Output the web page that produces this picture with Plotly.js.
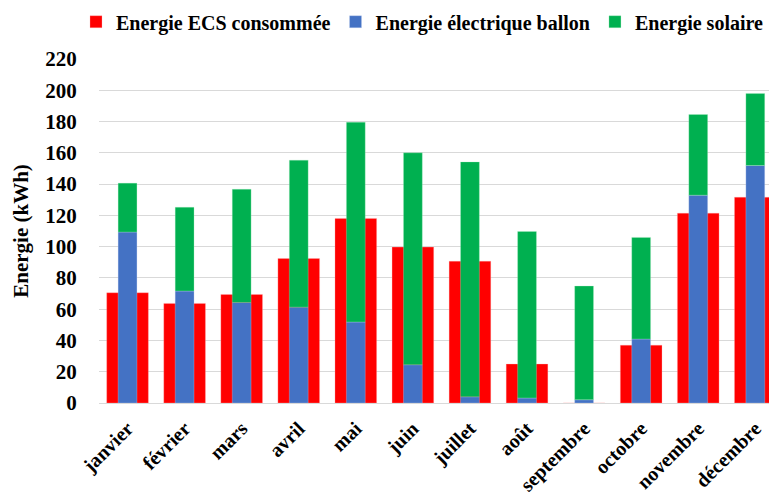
<!DOCTYPE html>
<html>
<head>
<meta charset="utf-8">
<script src="https://cdn.plot.ly/plotly-3.0.1.min.js"></script>
<style>html,body{margin:0;padding:0;background:#fff;}#chart{width:769px;height:497px;}</style>
</head>
<body>
<div id="chart"></div>
<script>
const months = ["janvier","février","mars","avril","mai","juin","juillet","août","septembre","octobre","novembre","décembre"];
const ecsConsommee = [70.5, 63.7, 69.4, 92.4, 118, 99.7, 90.7, 24.9, 0, 37, 121.4, 131.6];
const electriqueBallon = [109.3, 71.6, 64.3, 61.3, 51.8, 24.5, 4.0, 3.2, 2.1, 40.9, 132.9, 151.9];
const solaire = [31.3, 53.6, 72.4, 94.0, 127.8, 135.5, 150.2, 106.5, 72.7, 65.0, 51.6, 46.0];
const yTicks = [0,20,40,60,80,100,120,140,160,180,200,220];

const fam = "Liberation Serif";
const boldFont = (s) => ({family: fam, size: s, color: "#000", weight: "bold"});

const traces = [
  {type: "bar", name: "Energie ECS consommée", x: months, y: ecsConsommee, width: 0.73,
   marker: {color: "#FF0000", line: {color: "rgba(255,180,180,0.6)", width: 0.5}}},
  {type: "bar", name: "Energie électrique ballon", x: months, y: electriqueBallon, width: 0.33,
   marker: {color: "#4472C4", line: {color: "rgba(200,210,240,0.6)", width: 0.5}}},
  {type: "bar", name: "Energie solaire", x: months, y: solaire, base: electriqueBallon, width: 0.33,
   marker: {color: "#00B050", line: {color: "rgba(180,240,200,0.6)", width: 0.5}}}
];

const layout = {
  width: 769, height: 497,
  margin: {l: 99, r: 0, t: 59, b: 94},
  paper_bgcolor: "#fff", plot_bgcolor: "#fff",
  barmode: "overlay",
  font: {family: fam, color: "#000"},
  showlegend: true,
  legend: {orientation: "h", x: -0.01, xanchor: "left", y: 1.165, yanchor: "top",
           font: boldFont(20), itemwidth: 30, traceorder: "normal", tracegroupgap: 0},
  xaxis: {range: [-0.5, 11.24], type: "category", tickangle: -45, showgrid: false,
          ticks: "outside", ticklen: 5, tickcolor: "rgba(0,0,0,0)",
          showline: false, zeroline: false, tickfont: boldFont(20)},
  yaxis: {range: [0, 220], tickvals: yTicks, ticktext: yTicks.map(String),
          showgrid: true, gridcolor: "#D9D9D9", gridwidth: 1, zeroline: true, zerolinecolor: "#D9D9D9",
          showline: false, ticks: "outside", ticklen: 17, tickcolor: "rgba(0,0,0,0)", automargin: false,
          tickfont: boldFont(21),
          title: {text: "Energie (kWh)", standoff: 10, font: boldFont(21)}}
};

Plotly.newPlot("chart", traces, layout, {displayModeBar: false, staticPlot: true});
</script>
</body>
</html>
